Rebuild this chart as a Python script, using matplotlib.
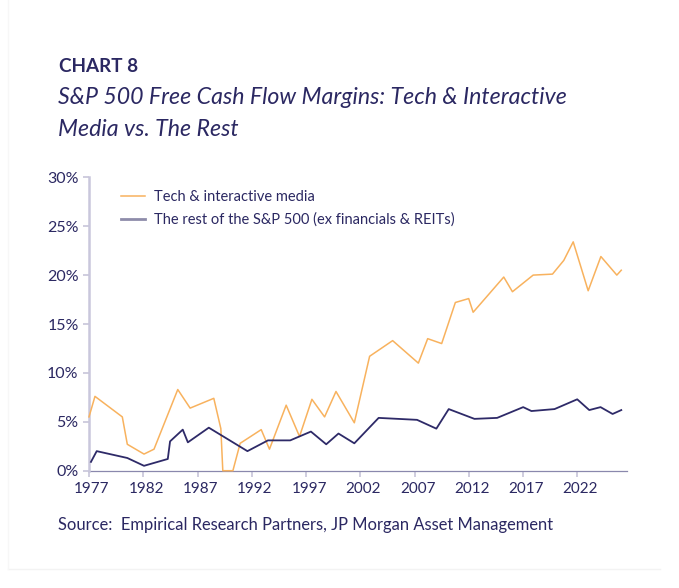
import matplotlib
matplotlib.use("Agg")
import matplotlib.pyplot as plt
from matplotlib.lines import Line2D
from matplotlib.ticker import FuncFormatter
import matplotlib.transforms as mtrans

# Data (x in fractional years, y in percent)
tech_years = [1977.0, 1977.55, 1980.07, 1980.53, 1982.07, 1982.99, 1985.18, 1986.32,
              1988.5, 1989.15, 1989.33, 1990.26, 1990.93, 1992.87, 1993.63, 1995.17,
              1996.4, 1997.54, 1998.71, 1999.76, 2001.45, 2002.86, 2004.98, 2007.35,
              2008.21, 2009.5, 2010.76, 2011.99, 2012.4, 2015.22, 2016.02, 2017.93,
              2019.71, 2020.75, 2021.62, 2023.0, 2024.17, 2025.64, 2026.05]
tech_margin = [5.5, 7.6, 5.5, 2.7, 1.7, 2.2, 8.3, 6.4,
               7.4, 4.3, 0.0, 0.0, 2.8, 4.2, 2.2, 6.7,
               3.5, 7.3, 5.5, 8.1, 4.9, 11.7, 13.3, 11.0,
               13.5, 13.0, 17.2, 17.6, 16.2, 19.8, 18.3, 20.0,
               20.1, 21.5, 23.4, 18.4, 21.9, 20.0, 20.5]

rest_years = [1977.18, 1977.71, 1980.53, 1982.07, 1984.26, 1984.47, 1985.64, 1986.11,
              1988.04, 1991.6, 1993.49, 1995.54, 1997.45, 1998.86, 1999.99, 2001.45,
              2003.69, 2007.23, 2009.01, 2010.15, 2012.52, 2014.61, 2017.01, 2017.77,
              2019.9, 2021.99, 2023.1, 2024.14, 2025.25, 2026.05]
rest_margin = [0.9, 2.0, 1.3, 0.5, 1.2, 3.0, 4.2, 2.9,
               4.4, 2.0, 3.1, 3.1, 4.0, 2.7, 3.8, 2.8,
               5.4, 5.2, 4.3, 6.3, 5.3, 5.4, 6.5, 6.1,
               6.3, 7.3, 6.2, 6.5, 5.8, 6.2]

year_ticks = [1977, 1982, 1987, 1992, 1997, 2002, 2007, 2012, 2017, 2022]
pct_ticks = [0, 5, 10, 15, 20, 25, 30]

label_tech = "Tech & interactive media"
label_rest = "The rest of the S&P 500 (ex financials & REITs)"
chart_no = "CHART 8"
title_1 = "S&P 500 Free Cash Flow Margins: Tech & Interactive"
title_2 = "Media vs. The Rest"
source = "Source:  Empirical Research Partners, JP Morgan Asset Management"

NAVY_TXT = "#2b2862"
ORANGE = "#f8b25e"
NAVY = "#2e2a68"

plt.rcParams["font.family"] = ["Lato", "DejaVu Sans"]

W, H = 679, 588
fig = plt.figure(figsize=(W / 100, H / 100), dpi=100)
fig.patch.set_facecolor("white")


def fx(x):
    return x / W


def fy(y):
    return 1 - y / H


# faint panel edge
fig.add_artist(Line2D([fx(8), fx(660)], [fy(569), fy(569)], color="#f3f3f3", lw=1))
fig.add_artist(Line2D([fx(8), fx(8)], [fy(0), fy(569)], color="#f7f7f7", lw=1))

# titles
fig.text(fx(59), fy(67), chart_no, fontsize=13.6, fontweight="bold", color=NAVY_TXT, va="center")
fig.text(fx(58), fy(97), title_1, fontsize=16.7, style="italic", color=NAVY_TXT, va="center")
fig.text(fx(58), fy(129.5), title_2, fontsize=16.7, style="italic", color=NAVY_TXT, va="center")
fig.text(fx(58), fy(525), source, fontsize=11.9, color=NAVY_TXT, va="center")

# axes box
left, right = 89, 626.7
top, bottom = 177.3, 470.7
ax = fig.add_axes([fx(left), fy(bottom), fx(right - left), (bottom - top) / H])

ax.plot(tech_years, tech_margin, color=ORANGE, lw=1.1, clip_on=False, zorder=3)
ax.plot(rest_years, rest_margin, color=NAVY, lw=1.3, clip_on=False, zorder=4)

ax.set_xlim(1977, 2026.55)
ax.set_ylim(0, 30)
ax.set_xticks(year_ticks)
ax.set_xticklabels([str(y) for y in year_ticks])
ax.set_yticks(pct_ticks)
ax.yaxis.set_major_formatter(FuncFormatter(lambda v, p: f"{v:.0f}%"))

for s in ["top", "right"]:
    ax.spines[s].set_visible(False)
ax.spines["left"].set_color("#c9c7dc")
ax.spines["left"].set_linewidth(1.8)
ax.spines["bottom"].set_color("#8a88ad")
ax.spines["bottom"].set_linewidth(0.9)
ax.spines["bottom"].set_zorder(2)

ax.tick_params(axis="both", colors="#c2c0d6", width=1.1, length=4, labelcolor=NAVY_TXT)
ax.tick_params(axis="y", pad=3.5, labelsize=11.5)
ax.tick_params(axis="x", pad=4, labelsize=11)
shift = mtrans.ScaledTranslation(3 / 100, 0, fig.dpi_scale_trans)
for lab in ax.get_xticklabels():
    lab.set_transform(lab.get_transform() + shift)

handles = [Line2D([0], [0], color=ORANGE, lw=1.1),
           Line2D([0], [0], color="#8e8caa", lw=2.0)]
ax.legend(handles, [label_tech, label_rest], loc="upper left",
          bbox_to_anchor=(0.0595, 0.958), frameon=False, borderpad=0, borderaxespad=0,
          handlelength=1.65, handletextpad=0.6, labelspacing=0.62,
          fontsize=10.5, labelcolor=NAVY_TXT)

fig.savefig("out.png", dpi=100, facecolor="white")
